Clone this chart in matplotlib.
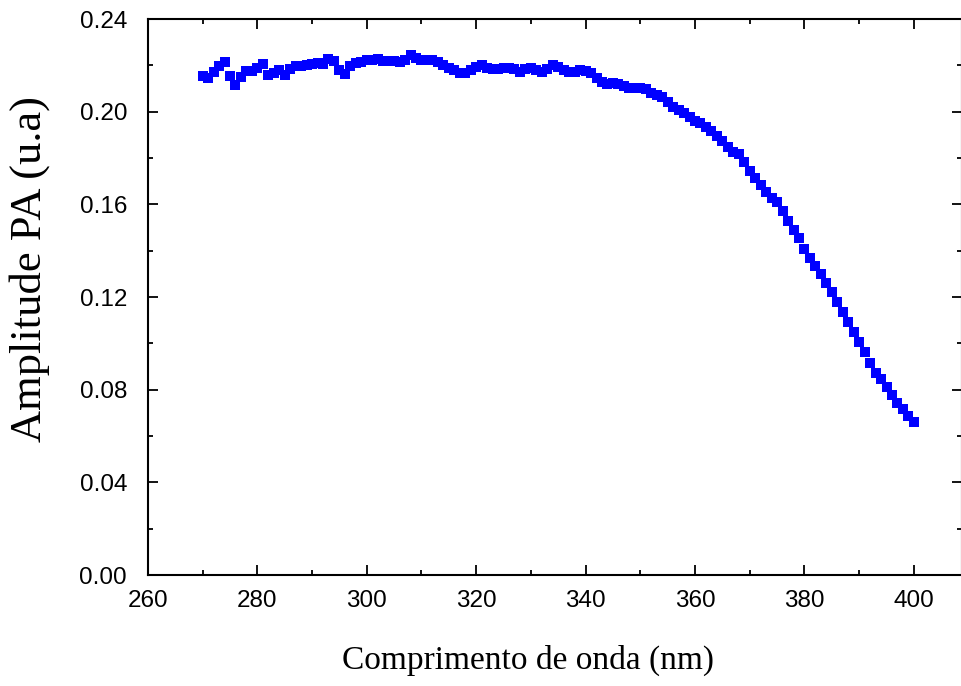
import matplotlib.pyplot as plt
from matplotlib.ticker import MultipleLocator

# comprimento de onda (nm), passo de 1 nm
wavelength = list(range(270, 401))

# amplitude fotoacústica (u.a)
amplitude = [
    0.2155, 0.2144, 0.2170, 0.2199, 0.2213, 0.2155, 0.2115, 0.2148, 0.2176, 0.2176,
    0.2187, 0.2206, 0.2158, 0.2166, 0.2180, 0.2158, 0.2184, 0.2197, 0.2197, 0.2202,
    0.2206, 0.2209, 0.2204, 0.2228, 0.2219, 0.2180, 0.2161, 0.2199, 0.2209, 0.2213,
    0.2223, 0.2223, 0.2228, 0.2219, 0.2219, 0.2219, 0.2216, 0.2223, 0.2245, 0.2233,
    0.2223, 0.2223, 0.2223, 0.2216, 0.2202, 0.2190, 0.2180, 0.2166, 0.2166, 0.2180,
    0.2194, 0.2202, 0.2187, 0.2184, 0.2184, 0.2190, 0.2190, 0.2184, 0.2173, 0.2184,
    0.2190, 0.2180, 0.2173, 0.2184, 0.2202, 0.2194, 0.2180, 0.2173, 0.2170, 0.2180,
    0.2176, 0.2166, 0.2147, 0.2130, 0.2118, 0.2123, 0.2120, 0.2110, 0.2101, 0.2101,
    0.2101, 0.2097, 0.2079, 0.2072, 0.2065, 0.2043, 0.2022, 0.2007, 0.1993, 0.1979,
    0.1961, 0.1950, 0.1935, 0.1918, 0.1895, 0.1875, 0.1849, 0.1827, 0.1817, 0.1784,
    0.1745, 0.1712, 0.1684, 0.1655, 0.1626, 0.1612, 0.1570, 0.1530, 0.1489, 0.1453,
    0.1407, 0.1367, 0.1334, 0.1298, 0.1259, 0.1223, 0.1177, 0.1137, 0.1094, 0.1050,
    0.1007, 0.0964, 0.0917, 0.0873, 0.0845, 0.0813, 0.0777, 0.0741, 0.0715, 0.0688,
    0.0662,
]

fig = plt.figure(figsize=(9.62, 6.86), dpi=100)
ax = fig.add_axes([0.1538, 0.1618, 0.8462, 0.8105])

ax.plot(wavelength, amplitude, 's', color='#0000ff', markersize=6.5,
        markeredgewidth=0)

ax.set_xlim(260, 408.8)
ax.set_ylim(0, 0.24)
ax.xaxis.set_major_locator(MultipleLocator(20))
ax.xaxis.set_minor_locator(MultipleLocator(10))
ax.yaxis.set_major_locator(MultipleLocator(0.04))
ax.yaxis.set_minor_locator(MultipleLocator(0.02))
ax.yaxis.set_major_formatter(plt.FuncFormatter(lambda v, p: f"{v:.2f}"))

ax.tick_params(which='both', direction='in', top=True, right=True, width=1.3)
ax.tick_params(which='major', length=7)
ax.tick_params(which='minor', length=3.5)
ax.tick_params(axis='x', which='major', pad=11)
ax.tick_params(axis='y', which='major', pad=15)
for lab in ax.get_xticklabels() + ax.get_yticklabels():
    lab.set_fontfamily('Liberation Sans')
    lab.set_fontsize(17.5)
for s in ax.spines.values():
    s.set_linewidth(1.5)

ax.set_xlabel('Comprimento de onda (nm)', family='Liberation Serif', fontsize=24)
ax.set_ylabel('Amplitude PA (u.a)', family='Liberation Serif', fontsize=32)
ax.xaxis.set_label_coords(0.467, -0.125)
ax.yaxis.set_label_coords(-0.12, 0.55)

fig.savefig('out.png', dpi=100)
